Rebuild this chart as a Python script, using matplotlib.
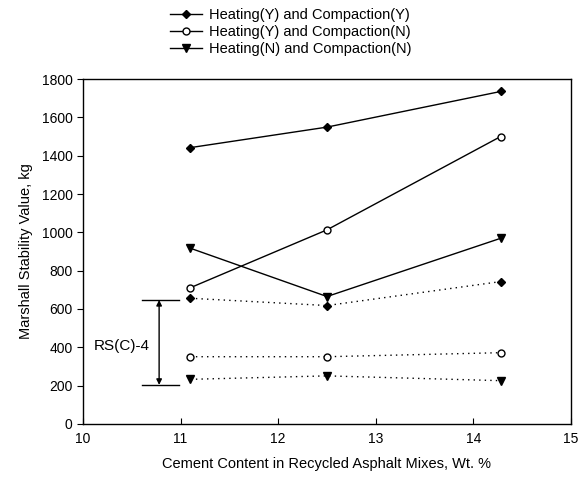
import matplotlib
matplotlib.use("Agg")
import matplotlib.pyplot as plt

plt.rcParams['font.family'] = ['Liberation Sans', 'DejaVu Sans']

x = [11.1, 12.5, 14.28]
hy_cy = [1442, 1549, 1735]
hy_cn = [711, 1013, 1500]
hn_cn = [917, 665, 969]
hy_cy_d = [656, 618, 743]
hy_cn_d = [351, 351, 372]
hn_cn_d = [233, 251, 226]

labels = ["Heating(Y) and Compaction(Y)",
          "Heating(Y) and Compaction(N)",
          "Heating(N) and Compaction(N)"]

range_x = 10.78
range_lo, range_hi = 204, 647
range_x0, range_x1 = 10.60, 10.98
range_label = "RS(C)-4"

xticks = [10, 11, 12, 13, 14, 15]
yticks = [0, 200, 400, 600, 800, 1000, 1200, 1400, 1600, 1800]

fig = plt.figure(figsize=(5.87, 4.80), dpi=100)
ax = fig.add_axes([0.1414, 0.1167, 0.8313, 0.7187])

lw = 1.0
dms, oms, vms = 4.2, 5.0, 5.5
h1, = ax.plot(x, hy_cy, '-', color='black', lw=lw, marker='D', ms=dms, mfc='black', mec='black')
h2, = ax.plot(x, hy_cn, '-', color='black', lw=lw, marker='o', ms=oms, mfc='white', mec='black', mew=1.0)
h3, = ax.plot(x, hn_cn, '-', color='black', lw=lw, marker='v', ms=vms, mfc='black', mec='black')
ax.plot(x, hy_cy_d, color='black', lw=lw, ls=(0, (1, 3)), marker='D', ms=dms, mfc='black', mec='black')
ax.plot(x, hy_cn_d, color='black', lw=lw, ls=(0, (1, 3)), marker='o', ms=oms, mfc='white', mec='black', mew=1.0)
ax.plot(x, hn_cn_d, color='black', lw=lw, ls=(0, (1, 3)), marker='v', ms=vms, mfc='black', mec='black')

# range indicator
ax.plot([range_x0, range_x1], [range_hi, range_hi], color='black', lw=1.0)
ax.plot([range_x0, range_x1], [range_lo, range_lo], color='black', lw=1.0)
ax.annotate('', xy=(range_x, range_lo), xytext=(range_x, range_hi),
            arrowprops=dict(arrowstyle='<|-|>', color='black', lw=1.0,
                            mutation_scale=8, shrinkA=0, shrinkB=0))
ax.text(10.68, 407, range_label, ha='right', va='center', fontsize=11)

ax.set_xlim(10, 15)
ax.set_ylim(0, 1800)
ax.set_xticks(xticks)
ax.set_yticks(yticks)
ax.tick_params(axis='x', direction='in', length=4, labelsize=10, pad=6)
ax.tick_params(axis='y', direction='out', length=4, labelsize=10)
for s in ax.spines.values():
    s.set_linewidth(1.0)
    s.set_color('black')

ax.set_xlabel("Cement Content in Recycled Asphalt Mixes, Wt. %", fontsize=10.5, labelpad=8)
ax.set_ylabel("Marshall Stability Value, kg", fontsize=10.5, labelpad=6)

fig.legend([h1, h2, h3], labels, loc='upper center', bbox_to_anchor=(0.495, 1.01),
           frameon=False, fontsize=10.5, handlelength=2.2, handletextpad=0.5,
           labelspacing=0.2)

fig.savefig("out.png", dpi=100)
